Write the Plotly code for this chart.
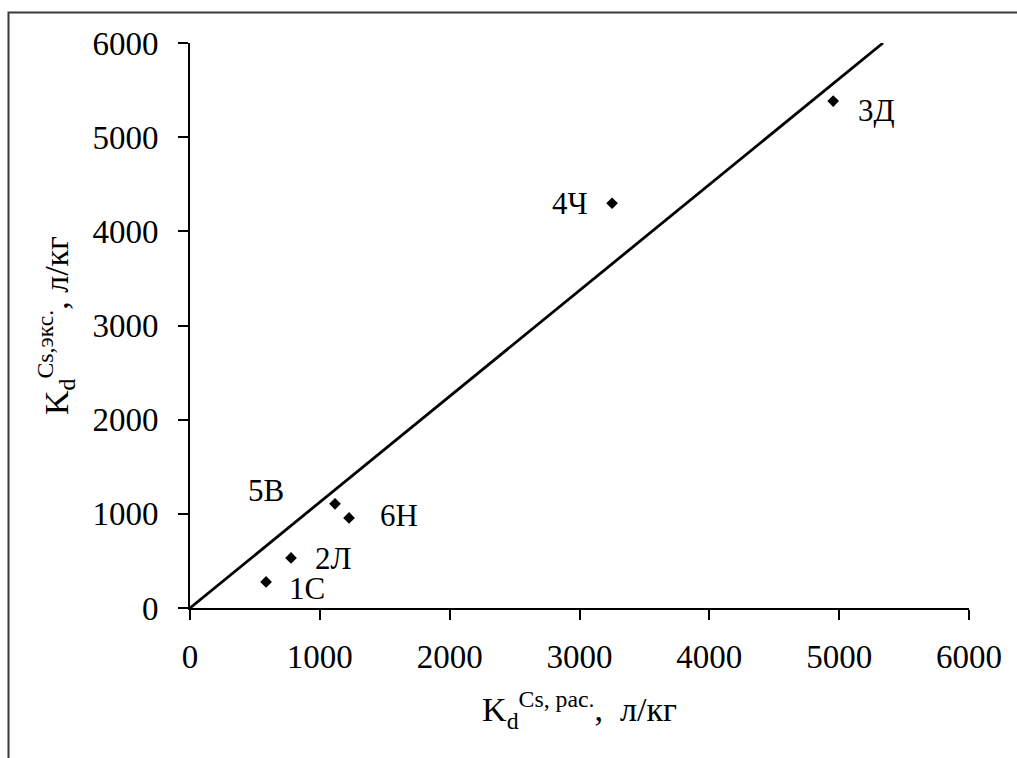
import numpy as np
import plotly.graph_objects as go

# Calculated vs. experimental Cs distribution coefficients (л/кг)
sample_labels = ["1С", "2Л", "3Д", "4Ч", "5В", "6Н"]
kd_calc = [586, 778, 4954, 3251, 1117, 1225]
kd_exp = [277, 532, 5383, 4298, 1106, 957]

axis_ticks = [0, 1000, 2000, 3000, 4000, 5000, 6000]

# label offsets in pixels (dx, dy) relative to each marker
label_offsets = {
    "1С": (41, -7),
    "2Л": (42, -1),
    "3Д": (43, -9),
    "4Ч": (-42, 0),
    "5В": (-69, 13),
    "6Н": (50, 2),
}

FONT = "Liberation Serif, Times New Roman, serif"

# linear trend forced through the origin
x = np.array(kd_calc, dtype=float)
y = np.array(kd_exp, dtype=float)
slope = float((x * y).sum() / (x * x).sum())
x_end = 6000 / slope

fig = go.Figure()
fig.add_trace(go.Scatter(
    x=[0, x_end], y=[0, slope * x_end], mode="lines",
    line=dict(color="black", width=2.8), hoverinfo="skip", showlegend=False,
))
fig.add_trace(go.Scatter(
    x=kd_calc, y=kd_exp, mode="markers",
    marker=dict(symbol="diamond", size=9, color="black"),
    showlegend=False,
))

for lab, xv, yv in zip(sample_labels, kd_calc, kd_exp):
    dx, dy = label_offsets[lab]
    fig.add_annotation(
        x=xv, y=yv, text=lab, showarrow=False,
        xshift=dx, yshift=dy,
        font=dict(family=FONT, size=31, color="black"),
    )

# outer frame of the chart area (right and bottom edges fall outside the page)
fig.add_shape(
    type="rect", xref="paper", yref="paper",
    x0=-0.233, y0=-0.35, x1=1.3, y1=1.054,
    line=dict(color="#3a3a3a", width=2), fillcolor="rgba(0,0,0,0)",
    layer="below",
)

axis_common = dict(
    range=[0, 6000], tickvals=axis_ticks, showgrid=False, zeroline=False,
    showline=True, linecolor="black", linewidth=2,
    ticks="outside", ticklen=10, tickwidth=2, tickcolor="black",
    tickfont=dict(family=FONT, size=33, color="black"),
)

fig.update_layout(
    width=1017, height=758,
    margin=dict(l=190, r=48, t=43, b=150),
    paper_bgcolor="white", plot_bgcolor="white",
    xaxis=dict(
        **axis_common,
        ticklabelstandoff=8,
        title=dict(text="K<sub>d</sub><sup>Cs, рас.</sup>,  л/кг",
                   font=dict(family=FONT, size=34, color="black"), standoff=24),
    ),
    yaxis=dict(
        **axis_common,
        ticklabelstandoff=13,
        title=dict(text="K<sub>d</sub><sup>Cs,экс.</sup>, л/кг",
                   font=dict(family=FONT, size=34, color="black"), standoff=14),
    ),
)

fig.write_html("out.html")
